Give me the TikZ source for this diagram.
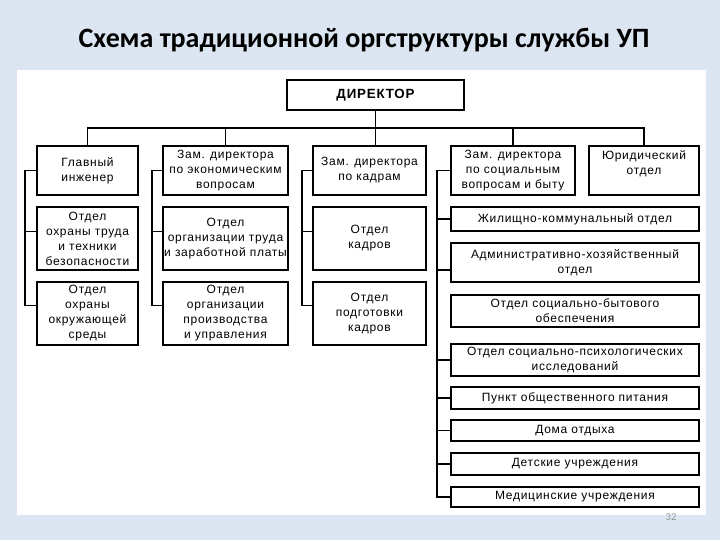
\documentclass[tikz,border=0pt]{standalone}
\usepackage{fontspec}
\setmainfont{Liberation Sans}
\newfontfamily\titlefont{Carlito}
\newfontfamily\boxfontfam[LetterSpace=6]{Liberation Sans}
\definecolor{bgblue}{RGB}{220,230,242}
\definecolor{pagegray}{RGB}{150,150,150}
\tikzset{
  box/.style={draw=black, line width=1.15pt, fill=white, align=center, inner sep=0pt,
    font=\boxfontfam\fontsize{9}{11.25}\selectfont},
  thickbox/.style={line width=1.9pt},
  conn/.style={draw=black, line width=0.8pt},
  thickconn/.style={draw=black, line width=1.6pt},
  titlestyle/.style={anchor=base, font=\titlefont\bfseries\fontsize{21}{25}\selectfont},
  pagestyle/.style={anchor=base, text=pagegray, font=\titlefont\fontsize{8}{9}\selectfont},
  dirtext/.style={font=\boxfontfam\bfseries\fontsize{10}{12}\selectfont},
}
\newcommand{\orgbox}[7][]{%
  \node[box,#1,minimum width={(#5-#3)*0.75pt},minimum height={(#6-#4)*0.75pt}]
    (#2) at ({(#3+#5)/2},{(#4+#6)/2}) {#7};}
\begin{document}
\begin{tikzpicture}[x=0.75pt,y=-0.75pt]
\useasboundingbox (0,0) rectangle (720,540);
\fill[bgblue] (0,0) rectangle (720,540);
\fill[white] (17,70) rectangle (706,515);
\node[titlestyle] (title) at (364,47) {Схема традиционной оргструктуры службы УП};
\node[pagestyle] (page) at (671,520) {32};

% director
\orgbox[dirtext]{dir}{287}{80}{464}{110}{ДИРЕКТОР}
% row 1
\orgbox{gl}{37}{146}{138}{195}{Главный\\инженер}
\orgbox{ek}{163}{146}{288}{195}{Зам. директора\\по экономическим\\вопросам}
\orgbox{kd}{313}{146}{426}{195}{Зам. директора\\по кадрам}
\orgbox{sc}{451}{146}{575}{195}{Зам. директора\\по социальным\\вопросам и быту}
\orgbox{ju}{589}{146}{699}{195}{Юридический\\отдел\\\mbox{}}
% row 2
\orgbox{gl2}{37}{207}{138}{270}{Отдел\\охраны труда\\и техники\\безопасности}
\orgbox{ek2}{163}{207}{288}{270}{Отдел\\организации труда\\и заработной платы}
\orgbox{kd2}{313}{207}{426}{270}{Отдел\\кадров}
% row 3
\orgbox{gl3}{37}{282}{138}{345}{Отдел\\охраны\\окружающей\\среды}
\orgbox{ek3}{163}{282}{288}{345}{Отдел\\организации\\производства\\и управления}
\orgbox{kd3}{313}{282}{426}{345}{Отдел\\подготовки\\кадров}
% right column
\orgbox{r1}{451}{207}{699}{231}{Жилищно-коммунальный отдел}
\orgbox{r2}{451}{243}{699}{282}{Административно-хозяйственный\\отдел}
\orgbox{r3}{451}{295}{699}{327}{Отдел социально-бытового\\обеспечения}
\orgbox[thickbox]{r4}{451}{344}{699}{376}{Отдел социально-психологических\\исследований}
\orgbox{r5}{451}{387}{699}{409}{Пункт общественного питания}
\orgbox{r6}{451}{420}{699}{441}{Дома отдыха}
\orgbox{r7}{451}{453}{699}{475}{Детские учреждения}
\orgbox{r8}{451}{487}{699}{507}{Медицинские учреждения}

% helper coordinates
\coordinate (busy) at (0,128);
\coordinate (v1) at (25,0);
\coordinate (v2) at (152,0);
\coordinate (v3) at (302,0);
\coordinate (v4) at (437,0);
\coordinate (gl2s) at ([yshift=5pt]gl2.west);
\coordinate (gl3s) at ([yshift=6pt]gl3.west);
\coordinate (ek2s) at ([yshift=5pt]ek2.west);
\coordinate (ek3s) at ([yshift=6pt]ek3.west);
\coordinate (kd2s) at ([yshift=5pt]kd2.west);
\coordinate (kd3s) at ([yshift=6pt]kd3.west);
\coordinate (r2s) at ([yshift=-5.6pt]r2.west);
\coordinate (r8t) at (437,487);

% top bus
\draw[conn] (gl.north) -- (gl.north |- busy) -- (ju.north |- busy) -- (ju.north);
\draw[conn] (ek.north) -- (ek.north |- busy);
\draw[conn] (dir.south) -- (dir.south |- kd.north);
\draw[thickconn] (sc.north |- busy) -- (sc.north);

% column 1
\draw[conn] (gl.west) -- (gl.west -| v1) -- (gl3s -| v1) -- (gl3s);
\draw[conn] (gl2s -| v1) -- (gl2s);
% column 2
\draw[conn] (ek.west) -- (ek.west -| v2) -- (ek3s -| v2) -- (ek3s);
\draw[conn] (ek2s -| v2) -- (ek2s);
% column 3
\draw[conn] (kd.west) -- (kd.west -| v3) -- (kd3s -| v3) -- (kd3s);
\draw[conn] (kd2s -| v3) -- (kd2s);
% column 4
\draw[conn] (sc.west) -- (sc.west -| v4) -- (r8.west -| v4);
\draw[conn] (r1.west -| v4) -- (r1.west);
\draw[conn] (r2s -| v4) -- (r2s);
\draw[conn] (r4.west -| v4) -- (r4.west);
\draw[conn] (r5.west -| v4) -- (r5.west);
\draw[conn] (r6.west -| v4) -- (r6.west);
\draw[conn] (r7.west -| v4) -- (r7.west);
\draw[thickconn] (r8t) |- (r8.west);
\end{tikzpicture}
\end{document}
